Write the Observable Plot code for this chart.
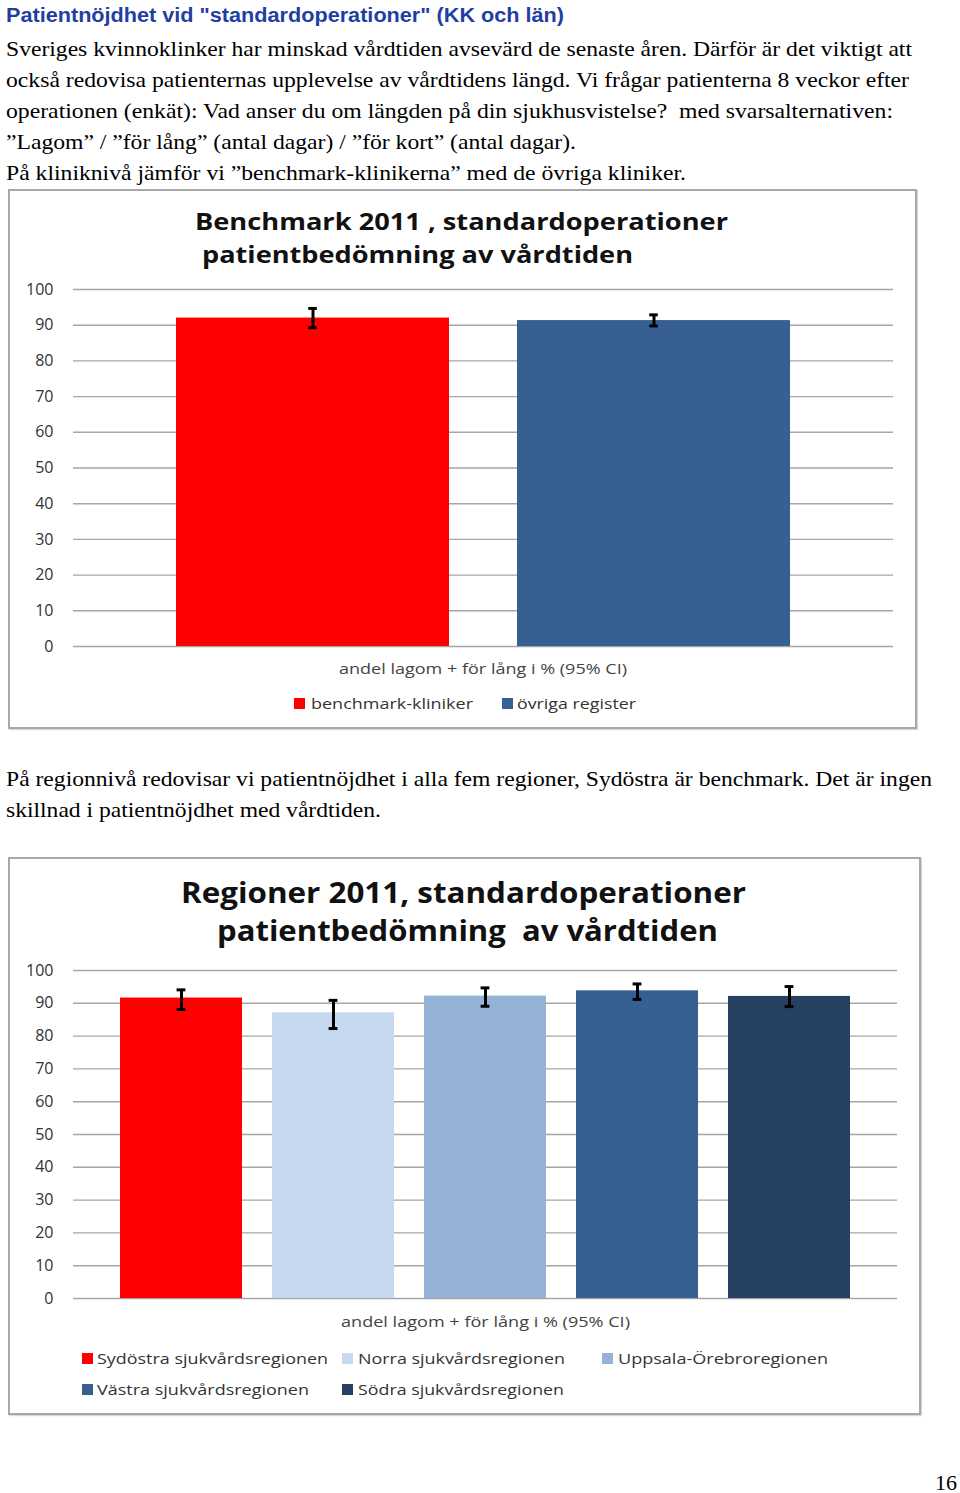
<!DOCTYPE html>
<html>
<head>
<meta charset="utf-8">
<script src="https://cdn.jsdelivr.net/npm/d3@7"></script>
<script src="https://cdn.jsdelivr.net/npm/@observablehq/plot@0.6"></script>
<style>
  html, body { margin: 0; padding: 0; background: #fff; }
  body { position: relative; width: 960px; height: 1493px; overflow: hidden; }
  .abs { position: absolute; white-space: pre; }
  .fit { display: inline-block; transform-origin: 0 50%; }
  .serif { font-family: "Liberation Serif", "Times New Roman", serif; font-size: 22px; line-height: 31px; color: #000; }
  .heading { font-family: "Liberation Sans", Arial, sans-serif; font-weight: bold; font-size: 20px; line-height: 26px; color: #1f3fa3; }
  .frame { position: absolute; border: 2px solid #a8a8a8; box-sizing: border-box; background: #fff; box-shadow: 1px 1px 1px #d8d8d8; }
  .ctitle { font-family: "Open Sans", Lato, sans-serif; font-weight: bold; color: #111; }
  .clabel { font-family: "Open Sans", Lato, sans-serif; font-size: 15px; line-height: 20px; color: #444; }
  .leg { font-family: "Open Sans", Lato, sans-serif; font-size: 15px; line-height: 20px; color: #333; }
  .sw { position: absolute; width: 11px; height: 11px; }
  svg.plot { position: absolute; left: 0; overflow: visible; }
</style>
</head>
<body>
<script>
// ---------------- DATA ----------------
const benchCategories = ["benchmark-kliniker", "övriga register"];
const benchValues = [92.0, 91.3];
const benchLow = [89.3, 89.8];
const benchHigh = [94.7, 92.9];
const benchColors = ["#ff0000", "#376092"];

const regionCategories = ["Sydöstra sjukvårdsregionen", "Norra sjukvårdsregionen", "Uppsala-Örebroregionen", "Västra sjukvårdsregionen", "Södra sjukvårdsregionen"];
const regionValues = [91.6, 87.1, 92.2, 93.8, 92.1];
const regionLow = [88.1, 82.3, 89.1, 91.2, 89.0];
const regionHigh = [94.1, 90.9, 94.7, 95.9, 95.1];
const regionColors = ["#ff0000", "#c6d9f1", "#95b3d7", "#376092", "#254061"];

const yTicks = [0, 10, 20, 30, 40, 50, 60, 70, 80, 90, 100];

const headingText = "Patientnöjdhet vid \"standardoperationer\" (KK och län)";
const introLines = [
  "Sveriges kvinnoklinker har minskad vårdtiden avsevärd de senaste åren. Därför är det viktigt att",
  "också redovisa patienternas upplevelse av vårdtidens längd. Vi frågar patienterna 8 veckor efter",
  "operationen (enkät): Vad anser du om längden på din sjukhusvistelse?  med svarsalternativen:",
  "”Lagom” / ”för lång” (antal dagar) / ”för kort” (antal dagar).",
  "På kliniknivå jämför vi ”benchmark-klinikerna” med de övriga kliniker."
];
const regionLines = [
  "På regionnivå redovisar vi patientnöjdhet i alla fem regioner, Sydöstra är benchmark. Det är ingen",
  "skillnad i patientnöjdhet med vårdtiden."
];
const chart1Title = ["Benchmark 2011 , standardoperationer", "patientbedömning av vårdtiden"];
const chart2Title = ["Regioner 2011, standardoperationer", "patientbedömning  av vårdtiden"];
const axisLabel = "andel lagom + för lång i % (95% CI)";
const pageNumber = "16";

// ---------------- HELPERS ----------------
const fitList = [];
function addText(txt, cls, left, centerY, lineH, targetW, extraStyle) {
  const d = document.createElement("div");
  d.className = "abs " + cls;
  d.style.left = left + "px";
  d.style.top = (centerY - lineH / 2) + "px";
  d.style.lineHeight = lineH + "px";
  if (extraStyle) Object.assign(d.style, extraStyle);
  const s = document.createElement("span");
  s.className = "fit";
  s.textContent = txt;
  d.appendChild(s);
  document.body.appendChild(d);
  if (targetW) fitList.push([s, targetW]);
  return d;
}
function addFrame(x0, y0, x1, y1) {
  const f = document.createElement("div");
  f.className = "frame";
  Object.assign(f.style, {left: x0 + "px", top: y0 + "px", width: (x1 - x0) + "px", height: (y1 - y0) + "px"});
  document.body.appendChild(f);
}

function barChart({cats, vals, lo, hi, colors, top, height, mt, mb, ml, mr, xr, capW}) {
  const data = cats.map((c, i) => ({c, v: vals[i], lo: lo[i], hi: hi[i]}));
  const bw = (xr[1] - xr[0]) / (cats.length + 0.2) * 0.8;
  const inset = (bw - capW) / 2;
  const svg = Plot.plot({
    width: 960, height,
    marginTop: mt, marginBottom: mb, marginLeft: ml, marginRight: mr,
    style: {fontFamily: "'Open Sans', Lato, sans-serif", fontSize: "16px", color: "#333", background: "transparent", overflow: "visible"},
    x: {domain: cats, range: xr, paddingInner: 0.2, paddingOuter: 0.2, axis: null},
    y: {domain: [0, 100], axis: null},
    color: {domain: cats, range: colors},
    marks: [
      Plot.ruleY(yTicks, {stroke: "#a6a6a6", strokeWidth: 1.4}),
      Plot.axisY({ticks: yTicks, tickSize: 0, tickPadding: 20, label: null, fill: "#333"}),
      Plot.barY(data, {x: "c", y: "v", fill: "c"}),
      Plot.ruleX(data, {x: "c", y1: "lo", y2: "hi", stroke: "#000", strokeWidth: 3}),
      Plot.tickY(data, {x: "c", y: "lo", stroke: "#000", strokeWidth: 3, insetLeft: inset, insetRight: inset}),
      Plot.tickY(data, {x: "c", y: "hi", stroke: "#000", strokeWidth: 3, insetLeft: inset, insetRight: inset})
    ]
  });
  svg.classList.add("plot");
  svg.style.top = top + "px";
  document.body.appendChild(svg);
}

function legendItem(name, color, sx, tx, cy, tw) {
  const sw = document.createElement("div");
  sw.className = "sw";
  Object.assign(sw.style, {left: sx + "px", top: (cy - 5.5) + "px", background: color});
  document.body.appendChild(sw);
  addText(name, "leg", tx, cy, 20, tw);
}

// ---------------- PAGE ----------------
addText(headingText, "heading", 6, 15, 26, 558);
const introW = [906, 903, 887, 570, 680];
introLines.forEach((l, i) => addText(l, "serif", 6, 48 + i * 31, 31, introW[i]));

// Chart 1
addFrame(8, 189, 917, 729);
addText(chart1Title[0], "ctitle", 195, 221, 32, 533, {fontSize: "24px"});
addText(chart1Title[1], "ctitle", 202, 254, 32, 431, {fontSize: "24px"});
barChart({cats: benchCategories, vals: benchValues, lo: benchLow, hi: benchHigh, colors: benchColors,
  top: 270, height: 390, mt: 19, mb: 14, ml: 73, mr: 960 - 893, xr: [106.6, 858.6], capW: 9});
addText(axisLabel, "clabel", 339, 668, 20, 288);
const leg1 = [[294, 311, 162], [502, 517, 119]];
benchCategories.forEach((c, i) => legendItem(c, benchColors[i], leg1[i][0], leg1[i][1], 703, leg1[i][2]));

// Paragraph
const regW = [926, 375];
regionLines.forEach((l, i) => addText(l, "serif", 6, 778 + i * 31, 31, regW[i]));

// Chart 2
addFrame(8, 857, 921, 1415);
addText(chart2Title[0], "ctitle", 181, 892, 40, 565, {fontSize: "29px"});
addText(chart2Title[1], "ctitle", 217, 930, 40, 501, {fontSize: "29px"});
barChart({cats: regionCategories, vals: regionValues, lo: regionLow, hi: regionHigh, colors: regionColors,
  top: 950, height: 360, mt: 20, mb: 12, ml: 73, mr: 960 - 897, xr: [87.5, 881.8], capW: 9});
addText(axisLabel, "clabel", 341, 1321, 20, 289);
const leg2 = [[82, 97, 1358, 231], [342, 358, 1358, 207], [602, 618, 1358, 210], [82, 97, 1389, 212], [342, 358, 1389, 206]];
regionCategories.forEach((c, i) => legendItem(c, regionColors[i], leg2[i][0], leg2[i][1], leg2[i][2], leg2[i][3]));

// Page number
addText(pageNumber, "serif", 935, 1482, 31, 22);

// Fit widths
function doFit() {
  fitList.forEach(([s, w]) => {
    s.style.transform = "none";
    const cur = s.getBoundingClientRect().width;
    if (cur > 0) s.style.transform = "scaleX(" + (w / cur) + ")";
  });
}
doFit();
if (document.fonts && document.fonts.ready) document.fonts.ready.then(doFit);
</script>
</body>
</html>
